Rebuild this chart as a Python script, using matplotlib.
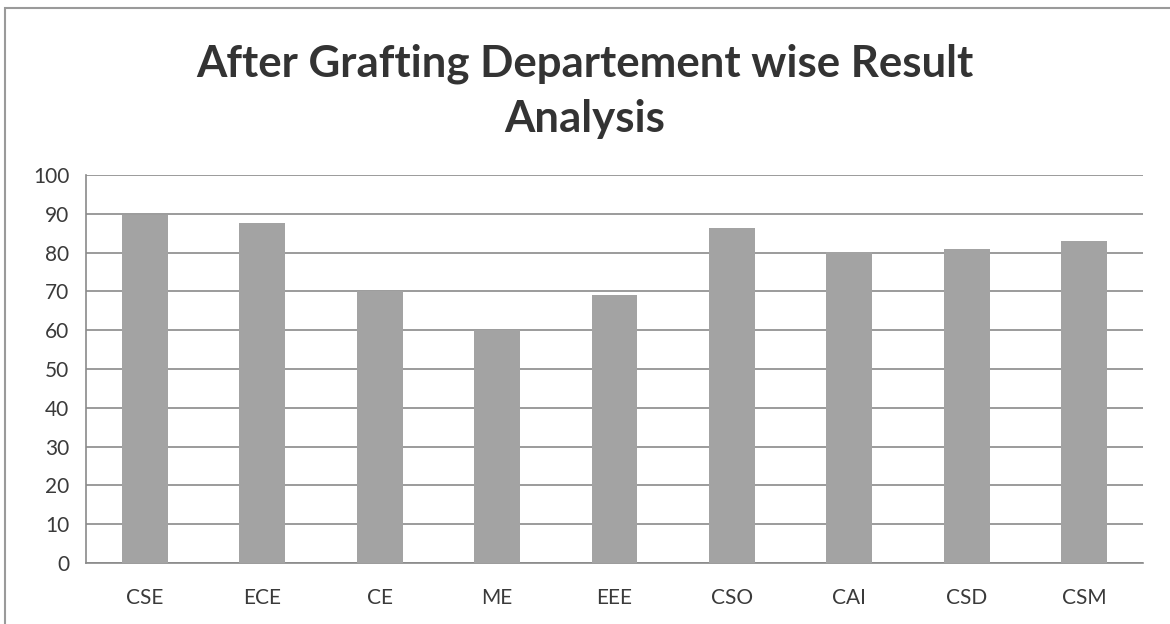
import matplotlib.pyplot as plt

departments = ["CSE", "ECE", "CE", "ME", "EEE", "CSO", "CAI", "CSD", "CSM"]
results = [89.7, 87.7, 70.2, 60.1, 69.1, 86.3, 80.1, 80.9, 83.1]
y_ticks = list(range(0, 101, 10))

TITLE = "After Grafting Departement wise Result\nAnalysis"

plt.rcParams["font.family"] = ["Lato", "DejaVu Sans"]

fig = plt.figure(figsize=(11.7, 6.24), dpi=100)
ax = fig.add_axes([86 / 1170, 1 - 563 / 624, (1143 - 86) / 1170, (563 - 175) / 624])

ax.bar(range(len(departments)), results, width=0.39, color="#a3a3a3", zorder=3)
ax.set_xlim(-0.5, len(departments) - 0.5)
ax.set_ylim(0, 100)
ax.set_yticks(y_ticks)
ax.set_xticks(range(len(departments)))
ax.set_xticklabels(departments)
ax.tick_params(axis="both", length=0, labelsize=15, colors="#3a3a3a")
ax.tick_params(axis="x", pad=18)
ax.tick_params(axis="y", pad=12)
ax.grid(axis="y", color="#8a8a8a", linewidth=1.2, zorder=0)
for side in ("top", "right"):
    ax.spines[side].set_visible(False)
for side in ("left", "bottom"):
    ax.spines[side].set_color("#8a8a8a")
    ax.spines[side].set_linewidth(1.2)

fig.text(0.5, 1 - 91 / 624, TITLE, ha="center", va="center", fontsize=31.5,
         fontweight="bold", color="#333333", linespacing=1.45)

# outer chart frame
frame = plt.Rectangle((5 / 1170, -0.02), 1.1, 1 - 8 / 624 + 0.02, transform=fig.transFigure,
                      fill=False, edgecolor="#9a9a9a", linewidth=1.5)
fig.patches.append(frame)

fig.savefig("out.png", dpi=100)
